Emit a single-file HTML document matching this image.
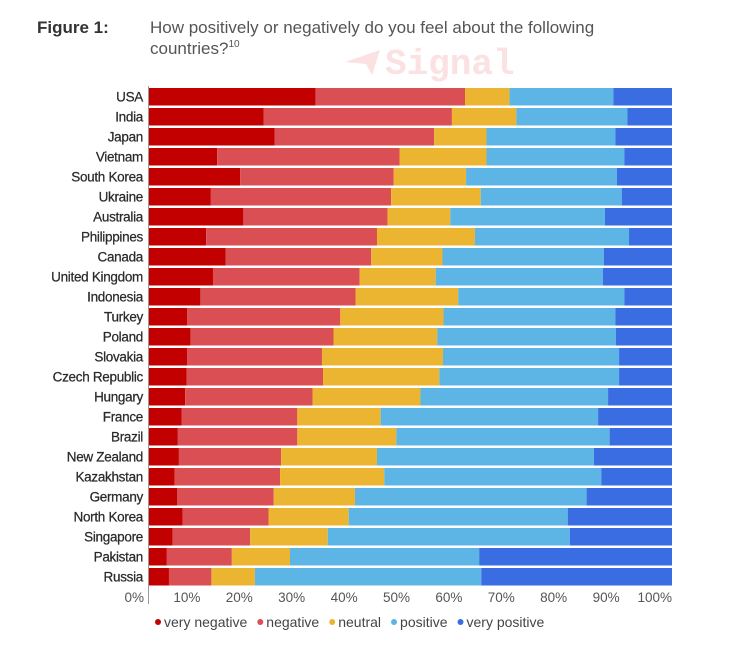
<!DOCTYPE html>
<html><head><meta charset="utf-8">
<style>
html,body{margin:0;padding:0;background:#fff;}
body{width:750px;height:640px;position:relative;overflow:hidden;font-family:"Liberation Sans",sans-serif;}
</style></head>
<body>
<svg id="chart" width="750" height="640" xmlns="http://www.w3.org/2000/svg">
  <text x="37" y="33" font-size="17" font-weight="bold" fill="#333">Figure 1:</text>
  <text x="150" y="33" font-size="17" fill="#555">How positively or negatively do you feel about the following</text>
  <text x="150" y="54" font-size="17" fill="#555">countries?<tspan font-size="10" dy="-7">10</tspan></text>
  <polygon points="345,62 380,50 372,75 366,64" fill="#fbe1e2"/>
  <text x="385" y="74" font-size="36" font-weight="bold" fill="#fbe1e2" font-family="Liberation Mono, monospace">Signal</text>
  <g id="bars"></g>
  <g id="axis"></g>
  <g id="legend"></g>
</svg>
<script>
const categories = ["USA","India","Japan","Vietnam","South Korea","Ukraine","Australia","Philippines","Canada","United Kingdom","Indonesia","Turkey","Poland","Slovakia","Czech Republic","Hungary","France","Brazil","New Zealand","Kazakhstan","Germany","North Korea","Singapore","Pakistan","Russia"];
const veryNegative = [32.0,22.1,24.2,13.2,17.6,12.0,18.2,11.1,14.8,12.4,10.0,7.5,8.1,7.5,7.4,7.1,6.4,5.7,5.9,5.1,5.6,6.6,4.7,3.6,4.0];
const negative = [28.5,35.9,30.4,34.8,29.3,34.4,27.5,32.6,27.8,28.0,29.6,29.2,27.3,25.7,26.0,24.3,22.1,22.8,19.5,20.1,18.4,16.4,14.8,12.4,8.1];
const neutral = [8.5,12.3,10.0,16.6,13.8,17.1,12.0,18.7,13.6,14.5,19.6,19.7,19.8,23.1,22.2,20.6,15.9,18.9,18.3,19.9,15.5,15.3,14.8,11.1,8.3];
const positive = [19.8,21.2,24.6,26.3,28.8,26.9,29.5,29.4,30.8,31.9,31.7,32.8,34.1,33.6,34.3,35.8,41.5,40.7,41.4,41.4,44.2,41.8,46.2,36.1,43.2];
const veryPositive = [11.2,8.5,10.8,9.1,10.5,9.6,12.8,8.2,13.0,13.2,9.1,10.8,10.7,10.1,10.1,12.2,14.1,11.9,14.9,13.5,16.3,19.9,19.5,36.8,36.4];
const seriesNames = ["very negative","negative","neutral","positive","very positive"];
const tickLabels = ["0%","10%","20%","30%","40%","50%","60%","70%","80%","90%","100%"];
const tickValues = [0,10,20,30,40,50,60,70,80,90,100];

const NS="http://www.w3.org/2000/svg";
const series=[veryNegative,negative,neutral,positive,veryPositive];
const colors=["#c20000","#da4f53","#ecb531","#5cb5e4","#3a6de2"];
const X0=148,X1=672,Y0=88,PITCH=20,BH=17.5;
const x=v=>X0+(X1-X0)*v/100;
const y=i=>Y0+i*PITCH;
function mk(tag,attrs,parent){const e=document.createElementNS(NS,tag);for(const k in attrs)e.setAttribute(k,attrs[k]);parent.appendChild(e);return e;}
const bars=document.getElementById('bars');
categories.forEach((c,i)=>{
  const lab=mk('text',{x:143,y:y(i)+13.5,'font-size':13.5,'text-anchor':'end',fill:'#2a2a2a','letter-spacing':'-0.3','stroke':'#2a2a2a','stroke-width':0.25},bars);
  
  
  lab.textContent=c;
  let acc=0;
  series.forEach((s,k)=>{
    const v=s[i];
    const r=mk('rect',{x:x(acc),y:y(i),width:Math.max(0,x(acc+v)-x(acc)),height:BH,fill:colors[k]},bars);
    
    
    acc+=v;
  });
});
const axis=document.getElementById('axis');
const al=mk('line',{x1:148.5,y1:86,x2:148.5,y2:604,stroke:'#999','stroke-width':1},axis);


tickValues.forEach((t,j)=>{
  const tx=mk('text',{x:x(t)+(j==0?-4:0),y:602,'font-size':13.5,'text-anchor':'end',fill:'#555'},axis);
  
  
  tx.textContent=tickLabels[j];
});
const legend=document.getElementById('legend');
let lx=155;
seriesNames.forEach((n,k)=>{
  const d=mk('circle',{cx:lx+3,cy:622,r:3,fill:colors[k]},legend);
  
  
  const t=mk('text',{x:lx+9,y:627,'font-size':14,fill:'#444'},legend);
  
  
  t.textContent=n;
  lx+=9+t.getComputedTextLength()+10;
});
</script>
</body></html>
